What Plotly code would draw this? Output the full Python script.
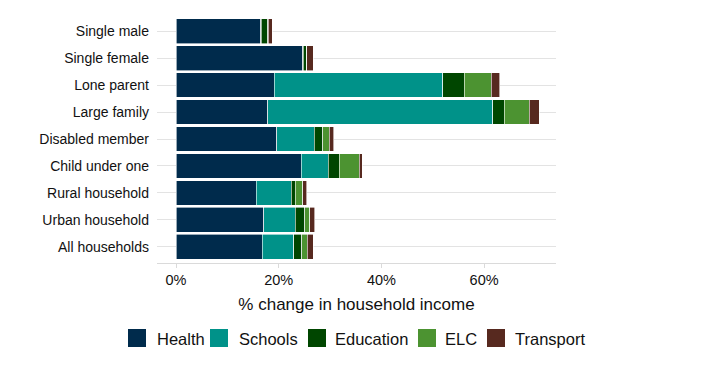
import plotly.graph_objects as go

categories = ["Single male", "Single female", "Lone parent", "Large family",
              "Disabled member", "Child under one", "Rural household",
              "Urban household", "All households"]
health    = [16.5, 24.7, 19.1, 17.9, 19.6, 24.4, 15.6, 17.1, 16.8]
schools   = [0.1, 0.1, 32.8, 43.8, 7.3, 5.2, 6.8, 6.1, 6.1]
education = [1.3, 0.6, 4.2, 2.2, 1.7, 2.2, 0.8, 1.9, 1.6]
elc       = [0.1, 0.1, 5.3, 4.9, 1.2, 3.9, 1.5, 0.9, 1.1]
transport = [0.7, 1.2, 1.6, 1.9, 0.9, 0.6, 0.8, 1.0, 1.1]
x_ticks = [0, 20, 40, 60]
x_tick_labels = ["0%", "20%", "40%", "60%"]
series_names = ["Health", "Schools", "Education", "ELC", "Transport"]
series_colors = ["#002B4C", "#009289", "#004600", "#4C9331", "#57291F"]
series_values = [health, schools, education, elc, transport]

# page has an 8px body margin; screen-space targets below
OFF = 8
W, H = 702, 376
plot_left, plot_right, plot_top, plot_bottom = 157, 556, 15, 263
L = plot_left - OFF
T = plot_top - OFF
pw = plot_right - plot_left
ph = plot_bottom - plot_top
R = W - L - pw
B = H - T - ph

def px_x(p):
    return (p - plot_left) / pw

def px_y(p):
    return (plot_bottom - p) / ph

TXT = "#111111"

fig = go.Figure()
for name, vals, col in zip(series_names, series_values, series_colors):
    fig.add_trace(go.Bar(y=categories, x=vals, name=name, orientation="h",
                         marker=dict(color=col, line=dict(color="white", width=0.6)),
                         showlegend=False))

# manual legend (ggplot-style keys)
legend_square_left = [128, 210, 308, 418, 487]
legend_text_left = [155, 237, 333, 443, 513]
shapes, annotations = [], []
for name, col, sx, tx in zip(series_names, series_colors, legend_square_left, legend_text_left):
    shapes.append(dict(type="rect", xref="paper", yref="paper",
                       x0=px_x(sx), x1=px_x(sx + 18), y0=px_y(347), y1=px_y(329),
                       fillcolor=col, line=dict(width=0), layer="above"))
    annotations.append(dict(text=name, xref="paper", yref="paper", x=px_x(tx), y=px_y(338.5),
                            xanchor="left", yanchor="middle", showarrow=False,
                            font=dict(size=16.5, color=TXT)))

fig.update_layout(
    barmode="stack", bargap=0.08,
    width=W, height=H,
    margin=dict(l=L, r=R, t=T, b=B, autoexpand=False),
    paper_bgcolor="white", plot_bgcolor="white",
    font=dict(family="Liberation Sans, Arial, sans-serif", color=TXT, size=14),
    showlegend=False,
    shapes=shapes, annotations=annotations,
    xaxis=dict(range=[-3.7, 74], tickvals=x_ticks, ticktext=x_tick_labels,
               showgrid=False, zeroline=False, showline=True, linecolor="#DADADA",
               linewidth=1, ticks="outside", ticklen=4, tickcolor="#DADADA",
               tickfont=dict(size=14.5, color=TXT),
               title=dict(text="% change in household income",
                          font=dict(size=17, color=TXT), standoff=10)),
    yaxis=dict(categoryorder="array", categoryarray=categories, autorange=False,
               range=[8.6, -0.6], showgrid=True, gridcolor="#E3E3E3", gridwidth=1,
               zeroline=False, ticks="", ticklabelstandoff=7,
               tickfont=dict(size=14, color=TXT)),
)
fig.write_html("out.html")
